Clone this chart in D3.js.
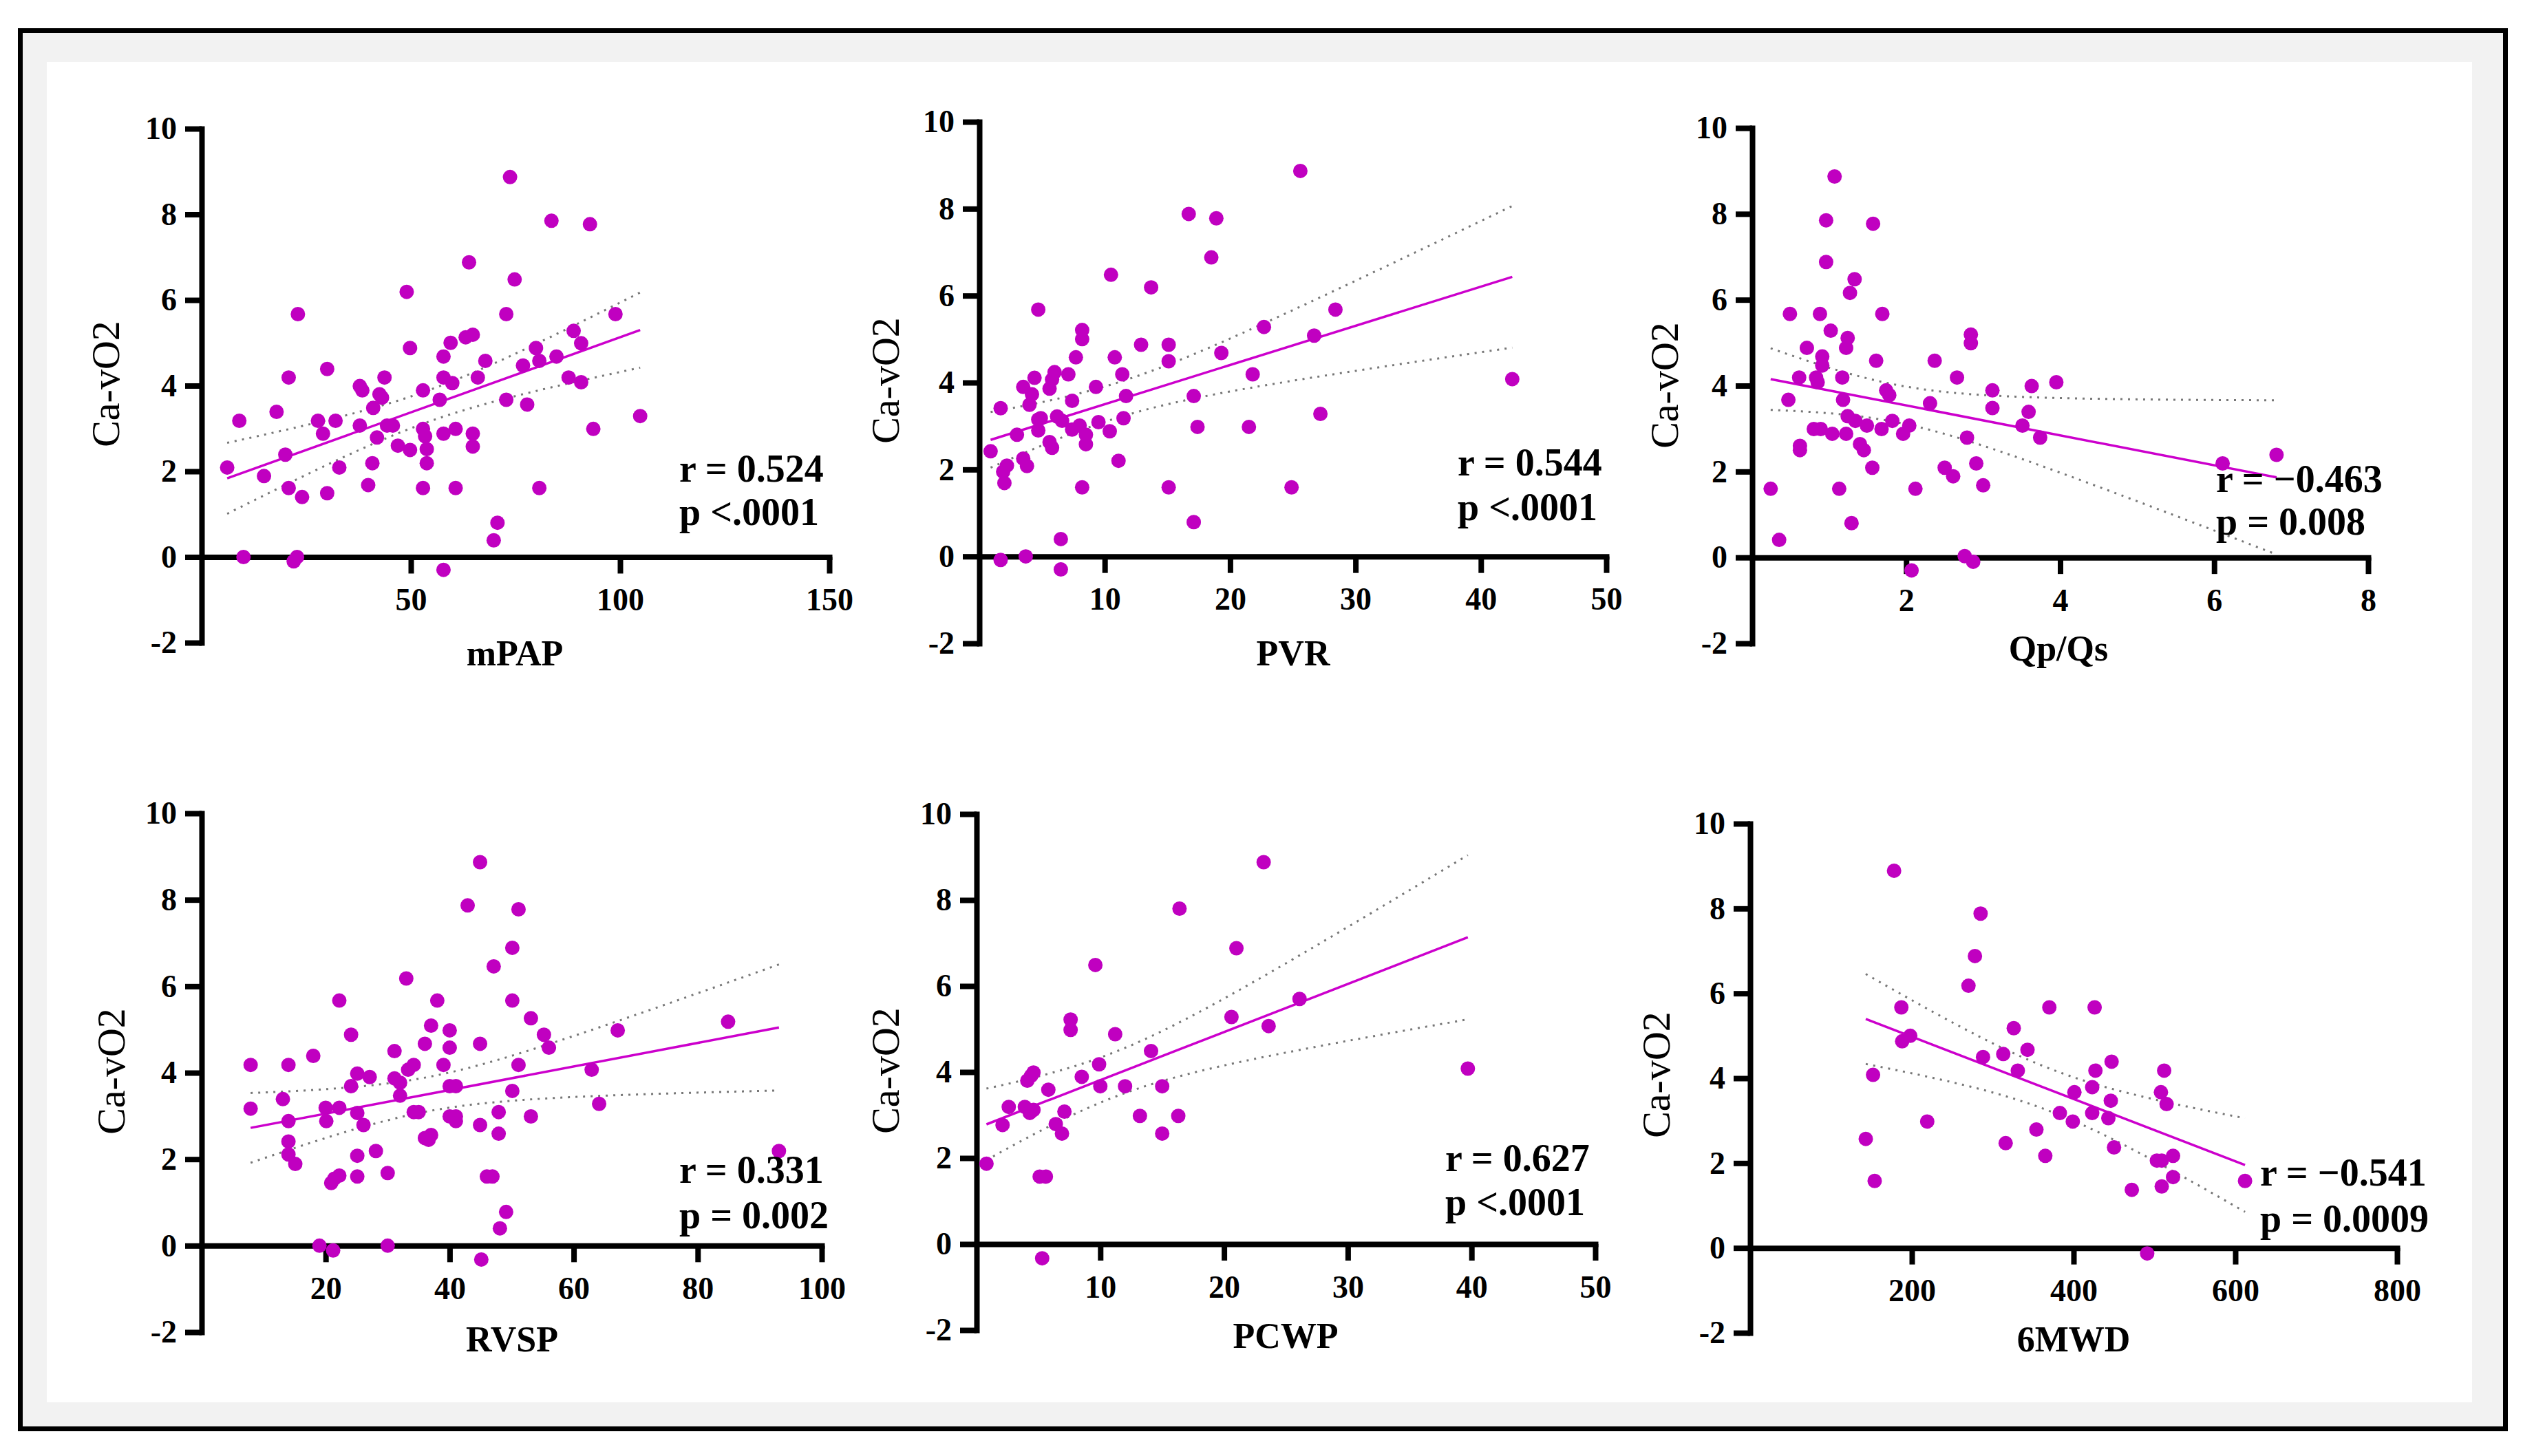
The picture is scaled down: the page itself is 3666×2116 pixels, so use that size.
<!DOCTYPE html>
<html lang="en">
<head>
<meta charset="UTF-8">
<title>Ca-vO2 correlations</title>
<script src="https://d3js.org/d3.v7.min.js"></script>
<style>
  * { margin: 0; padding: 0; box-sizing: border-box; }
  body { background: #fff; }
  svg { display: block; font-family: "Liberation Serif", "Times New Roman", serif; }
</style>
</head>
<body>
<svg id="chart" width="3666" height="2116"></svg>
<script>
// [x, Ca-vO2] pairs
const mpapPts = [[6.1,2.09],[9.0,3.18],[10.0,0.0],[14.9,1.89],[17.9,3.39],[20.0,2.39],[20.8,4.19],[20.8,1.61],[22.0,-0.1],[22.8,0.0],
  [23.0,5.67],[24.0,1.40],[27.8,3.18],[29.0,2.88],[30.0,4.39],[30.0,1.49],[32.0,3.18],[32.9,2.09],[37.8,3.99],[38.4,3.89],
  [37.8,3.07],[39.8,1.68],[40.8,2.19],[41.0,3.48],[41.9,2.79],[42.5,3.80],[43.1,3.72],[43.7,4.19],[44.3,3.07],[45.7,3.07],
  [46.9,2.60],[49.0,6.19],[49.8,4.88],[49.8,2.50],[52.9,3.89],[52.9,2.99],[53.4,2.82],[53.8,2.52],[53.8,2.19],[52.9,1.61],
  [56.9,3.67],[57.8,4.68],[57.8,4.19],[57.8,2.88],[57.8,-0.30],[59.5,5.00],[59.9,4.06],[60.7,2.99],[60.7,1.61],[63.1,5.13],
  [64.8,5.19],[63.9,6.88],[64.8,2.88],[64.8,2.58],[66.0,4.19],[67.8,4.58],[69.8,0.39],[70.7,0.80],[72.8,5.67],[72.8,3.67],
  [73.7,8.87],[74.8,6.48],[76.8,4.47],[77.8,3.56],[79.9,4.88],[80.7,4.58],[80.7,1.61],[83.6,7.85],[84.8,4.68],[87.7,4.19],
  [88.9,5.28],[90.7,4.99],[90.7,4.08],[92.8,7.77],[93.6,2.99],[98.9,5.67],[104.8,3.29]];

const pvrPts = [[0.9,2.42],[1.7,3.41],[1.7,-0.08],[1.9,1.95],[2.0,1.69],[2.2,2.09],[3.0,2.80],[3.5,3.90],[3.5,2.25],[3.7,0.0],
  [3.8,2.08],[4.0,3.49],[4.2,3.73],[4.4,4.11],[4.7,5.68],[4.7,3.15],[4.7,2.90],[4.9,3.18],[5.6,2.63],[5.8,2.50],
  [5.6,3.86],[5.8,4.07],[6.0,4.24],[6.2,3.22],[6.5,0.40],[6.5,-0.30],[6.6,3.12],[7.1,4.19],[7.4,3.58],[7.4,2.92],
  [7.7,4.58],[8.0,3.01],[8.2,5.21],[8.2,5.00],[8.2,1.59],[8.5,2.80],[8.5,2.58],[9.3,3.90],[9.5,3.09],[10.4,2.88],
  [10.5,6.48],[10.8,4.58],[11.1,2.20],[11.4,4.19],[11.5,3.18],[11.7,3.69],[12.9,4.87],[13.7,6.19],[15.1,4.87],[15.1,4.49],
  [15.1,1.59],[16.7,7.88],[17.1,3.69],[17.1,0.79],[17.4,2.98],[18.5,6.88],[18.9,7.78],[19.3,4.68],[21.5,2.98],[21.8,4.19],
  [22.7,5.28],[24.9,1.59],[25.6,8.87],[26.7,5.08],[27.2,3.28],[28.4,5.68],[42.5,4.08]];

const qpqsPts = [[0.24,1.60],[0.35,0.41],[0.47,3.67],[0.49,5.67],[0.61,4.19],[0.62,2.60],[0.62,2.50],[0.71,4.88],[0.80,2.99],[0.83,4.19],
  [0.85,4.08],[0.88,5.67],[0.89,2.99],[0.91,4.68],[0.91,4.47],[0.96,7.85],[0.96,6.88],[1.02,5.28],[1.04,2.88],[1.07,8.87],
  [1.13,1.60],[1.17,4.19],[1.18,3.67],[1.22,2.88],[1.22,4.88],[1.24,5.11],[1.24,3.29],[1.27,6.16],[1.29,0.80],[1.33,6.48],
  [1.34,3.18],[1.40,2.64],[1.45,2.50],[1.49,3.07],[1.56,2.09],[1.57,7.77],[1.61,4.58],[1.68,2.99],[1.69,5.67],[1.74,3.89],
  [1.78,3.78],[1.82,3.18],[1.96,2.88],[2.04,3.07],[2.07,-0.30],[2.12,1.60],[2.31,3.59],[2.37,4.58],[2.50,2.09],[2.61,1.89],
  [2.66,4.19],[2.76,0.03],[2.79,2.79],[2.84,5.19],[2.84,4.99],[2.87,-0.10],[2.91,2.19],[3.00,1.68],[3.12,3.89],[3.12,3.48],
  [3.51,3.07],[3.59,3.39],[3.63,3.99],[3.74,2.79],[3.95,4.08],[6.11,2.19],[6.81,2.39]];

const rvspPts = [[7.9,4.18],[7.9,3.17],[13.1,3.39],[14.0,4.18],[14.0,2.88],[14.0,2.41],[14.0,2.11],[15.1,1.89],[18.0,4.39],[19.0,0.0],
  [20.0,3.19],[20.1,2.88],[20.9,1.45],[21.2,-0.11],[21.4,1.55],[22.2,3.19],[22.2,5.67],[22.2,1.62],[24.1,4.88],[24.1,3.69],
  [25.1,3.98],[25.1,3.07],[25.1,2.08],[25.1,1.60],[26.1,2.79],[27.1,3.90],[28.1,2.19],[30.0,1.68],[30.0,0.0],[31.1,4.50],
  [31.1,3.87],[32.0,3.77],[32.0,3.47],[33.0,6.18],[33.3,4.07],[34.2,4.18],[34.2,3.09],[35.0,3.09],[36.0,4.67],[36.0,2.49],
  [37.0,5.09],[37.0,2.56],[36.6,2.45],[38.0,5.67],[39.0,4.18],[40.0,4.98],[40.0,4.58],[40.0,3.69],[41.0,3.69],[40.0,2.99],
  [41.0,2.99],[41.0,2.88],[42.9,7.87],[44.9,8.87],[44.9,4.67],[44.9,2.79],[45.1,-0.32],[46.0,1.60],[46.9,1.60],[47.1,6.46],
  [47.9,3.09],[47.9,2.59],[48.1,0.40],[49.1,0.78],[50.1,6.89],[50.1,5.67],[50.1,3.58],[51.1,7.78],[51.1,4.18],[53.1,5.26],
  [53.1,2.99],[55.2,4.88],[56.0,4.58],[62.9,4.07],[64.1,3.28],[67.1,4.98],[84.9,5.18],[93.1,2.19]];

const pcwpPts = [[0.8,1.87],[2.1,2.77],[2.6,3.19],[3.9,3.19],[4.1,3.80],[4.4,3.91],[4.6,3.99],[4.3,3.05],[4.6,3.12],[5.1,1.57],
  [5.6,1.57],[5.3,-0.33],[5.8,3.59],[6.4,2.79],[6.9,2.57],[7.1,3.08],[7.6,5.22],[7.6,4.98],[8.5,3.89],[9.6,6.49],
  [9.9,4.18],[10.0,3.67],[11.2,4.88],[12.0,3.67],[13.2,2.98],[14.1,4.49],[15.0,3.67],[15.0,2.57],[16.3,2.98],[16.4,7.80],
  [20.6,5.28],[21.0,6.88],[23.2,8.88],[23.6,5.07],[26.1,5.70],[39.7,4.08]];

const mwdPts = [[143,2.57],[152,4.08],[154,1.58],[178,8.89],[187,5.67],[188,4.87],[198,5.00],[219,2.98],[270,6.18],[278,6.88],
  [285,7.88],[288,4.50],[313,4.57],[316,2.47],[326,5.18],[331,4.18],[343,4.67],[354,2.79],[365,2.17],[370,5.67],
  [383,3.18],[399,2.98],[401,3.67],[423,3.79],[423,3.18],[427,4.18],[426,5.67],[443,3.06],[446,3.47],[447,4.39],
  [450,2.37],[472,1.37],[491,-0.13],[503,2.06],[509,2.06],[508,3.67],[509,1.45],[512,4.18],[515,3.39],[523,2.17],
  [523,1.67],[612,1.58]];

const yTicks = [-2, 0, 2, 4, 6, 8, 10];
const yLabel = "Ca-vO2";

const panels = [
  { pts: mpapPts, xMax: 150, xTicks: [50, 100, 150], xLabel: "mPAP", r: "r = 0.524", p: "p <.0001",
    box: [293, 1205, 187, 934], yl: [173, 558], xl: [748, 967], ann: [987, 700, 763] },
  { pts: pvrPts, xMax: 50, xTicks: [10, 20, 30, 40, 50], xLabel: "PVR", r: "r = 0.544", p: "p <.0001",
    box: [1423, 2334, 177, 935], yl: [1306, 553], xl: [1879, 967], ann: [2118, 691, 756] },
  { pts: qpqsPts, xMax: 8, xTicks: [2, 4, 6, 8], xLabel: "Qp/Qs", r: "r = \u22120.463", p: "p = 0.008",
    box: [2546, 3441, 186, 935], yl: [2438, 560], xl: [2991, 960], ann: [3220, 715, 777] },
  { pts: rvspPts, xMax: 100, xTicks: [20, 40, 60, 80, 100], xLabel: "RVSP", r: "r = 0.331", p: "p = 0.002",
    box: [293, 1194, 1182, 1936], yl: [181, 1557], xl: [744, 1964], ann: [987, 1719, 1785] },
  { pts: pcwpPts, xMax: 50, xTicks: [10, 20, 30, 40, 50], xLabel: "PCWP", r: "r = 0.627", p: "p <.0001",
    box: [1419, 2318, 1183, 1933], yl: [1306, 1556], xl: [1868, 1959], ann: [2100, 1702, 1766] },
  { pts: mwdPts, xMax: 800, xTicks: [200, 400, 600, 800], xLabel: "6MWD", r: "r = \u22120.541", p: "p = 0.0009",
    box: [2543, 3483, 1197, 1937], yl: [2426, 1562], xl: [3013, 1964], ann: [3284, 1723, 1790] }
];

const dotColor = "#c000c0";
const lineColor = "#cc00cc";

const svg = d3.select("#chart");

// frame
svg.append("rect").attr("x", 29.5).attr("y", 44.5).attr("width", 3611).attr("height", 2032)
  .attr("fill", "#f2f2f2").attr("stroke", "#000").attr("stroke-width", 7);
svg.append("rect").attr("x", 68).attr("y", 90).attr("width", 3524).attr("height", 1948).attr("fill", "#fff");

// least squares fit with 95% confidence band of the mean
function fitLine(pts) {
  const n = pts.length;
  const mx = d3.mean(pts, d => d[0]), my = d3.mean(pts, d => d[1]);
  const sxx = d3.sum(pts, d => (d[0] - mx) ** 2);
  const sxy = d3.sum(pts, d => (d[0] - mx) * (d[1] - my));
  const b = sxy / sxx, a = my - b * mx;
  const sse = d3.sum(pts, d => (d[1] - a - b * d[0]) ** 2);
  const s = Math.sqrt(sse / (n - 2));
  const t = 1.96 + 2.4 / (n - 2);
  const [x0, x1] = d3.extent(pts, d => d[0]);
  const band = d3.range(0, 61).map(i => {
    const x = x0 + (x1 - x0) * i / 60;
    const h = t * s * Math.sqrt(1 / n + (x - mx) ** 2 / sxx);
    return { x: x, lo: a + b * x - h, hi: a + b * x + h };
  });
  return { a, b, x0, x1, band };
}

panels.forEach(pn => {
  const [bx0, bx1, by0, by1] = pn.box;
  const x = d3.scaleLinear().domain([0, pn.xMax]).range([bx0, bx1]);
  const y = d3.scaleLinear().domain([-2, 10]).range([by1, by0]);
  const g = svg.append("g");

  // axes (plain hyphen for negatives, like the original)
  const yAxis = g.append("g").attr("transform", `translate(${bx0},0)`)
    .call(d3.axisLeft(y).tickValues(yTicks).tickFormat(d => String(d))
      .tickSize(24).tickPadding(12).tickSizeOuter(0));
  const xAxis = g.append("g").attr("transform", `translate(0,${y(0)})`)
    .call(d3.axisBottom(x).tickValues(pn.xTicks).tickFormat(d => String(d))
      .tickSize(24).tickPadding(21).tickSizeOuter(0));
  [yAxis, xAxis].forEach(ax => {
    ax.attr("font-family", null).attr("font-size", null);
    ax.select(".domain").attr("stroke", "#000").attr("stroke-width", 8).attr("stroke-linecap", "square");
    ax.selectAll(".tick line").attr("stroke", "#000").attr("stroke-width", 8);
    ax.selectAll(".tick text").attr("fill", "#000").style("font-size", "46px").style("font-weight", "bold");
  });

  // fit + band
  const f = fitLine(pn.pts);
  const lineGen = key => d3.line().x(d => x(d.x)).y(d => y(d[key]));
  ["lo", "hi"].forEach(k => {
    g.append("path").datum(f.band).attr("d", lineGen(k)).attr("fill", "none")
      .attr("stroke", "#777").attr("stroke-width", 3).attr("stroke-dasharray", "3,8");
  });
  g.append("line")
    .attr("x1", x(f.x0)).attr("y1", y(f.a + f.b * f.x0))
    .attr("x2", x(f.x1)).attr("y2", y(f.a + f.b * f.x1))
    .attr("stroke", lineColor).attr("stroke-width", 3.5);

  // points
  g.append("g").selectAll("circle").data(pn.pts).join("circle")
    .attr("cx", d => x(d[0])).attr("cy", d => y(d[1])).attr("r", 10.5)
    .attr("fill", dotColor);

  // labels
  g.append("text").attr("transform", `translate(${pn.yl[0]},${pn.yl[1]}) rotate(-90)`)
    .attr("text-anchor", "middle").style("font-size", "58px").attr("fill", "#000").text(yLabel);
  g.append("text").attr("x", pn.xl[0]).attr("y", pn.xl[1]).attr("text-anchor", "middle")
    .style("font-size", "52px").style("font-weight", "bold").attr("fill", "#000").text(pn.xLabel);
  g.append("text").attr("x", pn.ann[0]).attr("y", pn.ann[1])
    .style("font-size", "56px").style("font-weight", "bold").attr("fill", "#000").text(pn.r);
  g.append("text").attr("x", pn.ann[0]).attr("y", pn.ann[2])
    .style("font-size", "56px").style("font-weight", "bold").attr("fill", "#000").text(pn.p);
});
</script>
</body>
</html>
